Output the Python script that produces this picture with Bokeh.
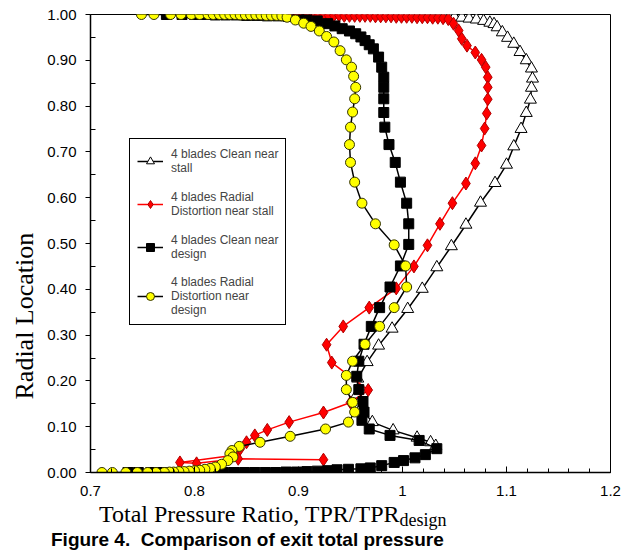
import numpy as np
from bokeh.plotting import figure
from bokeh.layouts import column
from bokeh.models import Legend, LegendItem, FixedTicker, Title, Div
from bokeh.embed import file_html
from bokeh.resources import INLINE

# ---------------- data ----------------
series_names = [
    "4 blades Clean near\nstall",
    "4 blades Radial\nDistortion near stall",
    "4 blades Clean near\ndesign",
    "4 blades Radial\nDistortion near\ndesign",
]

# 4 blades Clean near stall (open triangles)
stall_clean_x = [0.880, 0.885, 0.890, 0.895, 0.900, 0.905, 0.910, 0.915, 0.920, 0.925, 0.930, 0.935,
                 0.940, 0.945, 0.950, 0.955, 0.960, 0.965, 0.970, 0.975, 0.980, 0.985, 0.990, 0.995,
                 1.000, 1.005, 1.010, 1.015, 1.020, 1.025, 1.030, 1.035, 1.040, 1.045, 1.050, 1.057,
                 1.064, 1.071, 1.078, 1.084, 1.088, 1.091, 1.096, 1.101, 1.107, 1.113, 1.119, 1.124,
                 1.125, 1.124, 1.123, 1.119, 1.114, 1.107, 1.100, 1.089, 1.075, 1.061, 1.047, 1.033,
                 1.019, 1.005, 0.990, 0.977, 0.966, 0.957, 0.956, 0.960, 0.971, 0.991, 1.014, 1.027,
                 1.032]
stall_clean_y = [1.000, 1.000, 1.000, 1.000, 1.000, 1.000, 1.000, 1.000, 1.000, 1.000, 1.000, 1.000,
                 1.000, 1.000, 1.000, 1.000, 0.999, 0.999, 0.999, 0.999, 0.999, 0.999, 0.998, 0.998,
                 0.998, 0.998, 0.997, 0.997, 0.997, 0.996, 0.996, 0.996, 0.995, 0.995, 0.994, 0.993,
                 0.991, 0.989, 0.986, 0.982, 0.979, 0.972, 0.961, 0.949, 0.936, 0.918, 0.900, 0.882,
                 0.860, 0.840, 0.814, 0.785, 0.750, 0.712, 0.672, 0.632, 0.589, 0.541, 0.494, 0.448,
                 0.401, 0.357, 0.314, 0.277, 0.241, 0.205, 0.170, 0.140, 0.110, 0.092, 0.076, 0.066,
                 0.058]

# 4 blades Radial Distortion near stall (red diamonds)
stall_dist_x = [0.894, 0.899, 0.904, 0.909, 0.914, 0.919, 0.924, 0.929, 0.934, 0.939, 0.944, 0.949,
                0.954, 0.959, 0.964, 0.969, 0.974, 0.979, 0.984, 0.989, 0.994, 0.999, 1.004, 1.009,
                1.014, 1.019, 1.024, 1.029, 1.034, 1.039, 1.044, 1.049, 1.054, 1.057, 1.062, 1.070,
                1.076, 1.080, 1.082, 1.082, 1.082, 1.081, 1.079, 1.076, 1.070, 1.061, 1.048, 1.036,
                1.024, 1.011, 0.994, 0.968, 0.943, 0.927, 0.932, 0.967, 0.950, 0.924, 0.891, 0.870,
                0.858, 0.850, 0.844, 0.840, 0.786, 0.802, 0.842, 0.924]
stall_dist_y = [0.998, 0.998, 0.998, 0.998, 0.998, 0.998, 0.998, 0.998, 0.998, 0.998, 0.997, 0.997,
                0.997, 0.997, 0.997, 0.997, 0.996, 0.996, 0.996, 0.996, 0.995, 0.995, 0.995, 0.995,
                0.994, 0.994, 0.994, 0.993, 0.993, 0.992, 0.990, 0.980, 0.965, 0.947, 0.932, 0.917,
                0.901, 0.885, 0.863, 0.841, 0.815, 0.784, 0.751, 0.714, 0.675, 0.631, 0.588, 0.543,
                0.496, 0.450, 0.402, 0.360, 0.319, 0.279, 0.240, 0.180, 0.153, 0.131, 0.110, 0.093,
                0.081, 0.066, 0.052, 0.038, 0.022, 0.020, 0.030, 0.028]

# 4 blades Clean near design (black squares)
design_clean_x = [0.773, 0.788, 0.800, 0.810, 0.820, 0.830, 0.840, 0.850, 0.860, 0.870, 0.880, 0.890,
                  0.900, 0.908, 0.918, 0.928, 0.935, 0.942, 0.949, 0.955, 0.960, 0.964, 0.968, 0.972,
                  0.977, 0.980, 0.982, 0.982, 0.982, 0.982, 0.983, 0.987, 0.993, 0.998, 1.004, 1.006,
                  1.006, 0.998, 0.988, 0.978, 0.970, 0.963, 0.958, 0.956, 0.958, 0.962, 0.963, 0.961,
                  0.968, 0.988, 1.016, 1.033, 1.022, 1.012, 1.001, 0.992, 0.980, 0.969, 0.960, 0.948,
                  0.937, 0.928, 0.918, 0.908, 0.898, 0.888, 0.878, 0.868, 0.858, 0.848, 0.838, 0.828,
                  0.818, 0.808, 0.798, 0.788, 0.778, 0.768, 0.758, 0.746, 0.736]
design_clean_y = [1.000, 1.000, 1.000, 1.000, 0.999, 0.999, 0.999, 0.998, 0.998, 0.997, 0.997, 0.996,
                  0.995, 0.991, 0.986, 0.980, 0.975, 0.969, 0.964, 0.958, 0.951, 0.943, 0.934, 0.925,
                  0.907, 0.885, 0.863, 0.841, 0.816, 0.786, 0.754, 0.716, 0.677, 0.634, 0.588, 0.543,
                  0.498, 0.451, 0.405, 0.360, 0.319, 0.280, 0.243, 0.210, 0.181, 0.155, 0.132, 0.114,
                  0.095, 0.081, 0.070, 0.052, 0.039, 0.032, 0.026, 0.022, 0.015, 0.010, 0.008, 0.007,
                  0.006, 0.004, 0.003, 0.002, 0.001, 0.001, 0.000, 0.000, 0.000, 0.000, 0.000, 0.000,
                  0.000, 0.000, 0.000, 0.000, 0.000, 0.000, 0.000, 0.000, 0.000]

# 4 blades Radial Distortion near design (yellow circles)
design_dist_x = [0.749, 0.761, 0.777, 0.787, 0.797, 0.805, 0.813, 0.818, 0.824, 0.829, 0.834, 0.839,
                 0.844, 0.849, 0.854, 0.859, 0.864, 0.869, 0.874, 0.879, 0.884, 0.889, 0.897, 0.905,
                 0.912, 0.920, 0.927, 0.934, 0.940, 0.946, 0.951, 0.953, 0.955, 0.954, 0.952, 0.950,
                 0.949, 0.950, 0.954, 0.961, 0.974, 0.992, 1.003, 1.004, 0.992, 0.978, 0.964, 0.952,
                 0.946, 0.946, 0.952, 0.954, 0.948, 0.926, 0.892, 0.863, 0.843, 0.836, 0.834, 0.837,
                 0.832, 0.826, 0.820, 0.815, 0.810, 0.805, 0.800, 0.795, 0.790, 0.785, 0.780, 0.776,
                 0.771, 0.763, 0.755, 0.745, 0.734, 0.721, 0.711]
design_dist_y = [1.000, 1.000, 1.000, 1.000, 1.000, 1.000, 1.000, 1.000, 1.000, 1.000, 1.000, 1.000,
                 0.999, 0.999, 0.999, 0.999, 0.999, 0.998, 0.998, 0.998, 0.997, 0.994, 0.988, 0.981,
                 0.974, 0.964, 0.952, 0.940, 0.921, 0.901, 0.885, 0.865, 0.841, 0.816, 0.787, 0.754,
                 0.716, 0.677, 0.634, 0.588, 0.543, 0.497, 0.451, 0.405, 0.360, 0.319, 0.280, 0.243,
                 0.212, 0.181, 0.153, 0.132, 0.110, 0.095, 0.079, 0.066, 0.057, 0.048, 0.041, 0.034,
                 0.026, 0.018, 0.012, 0.009, 0.007, 0.005, 0.004, 0.003, 0.002, 0.002, 0.001, 0.001,
                 0.000, 0.000, 0.000, 0.000, 0.000, 0.000, 0.000]

x_ticks = [0.7, 0.8, 0.9, 1.0, 1.1, 1.2]
x_tick_labels = ["0.7", "0.8", "0.9", "1", "1.1", "1.2"]
y_ticks = [0.0, 0.1, 0.2, 0.3, 0.4, 0.5, 0.6, 0.7, 0.8, 0.9, 1.0]
y_tick_labels = ["0.00", "0.10", "0.20", "0.30", "0.40", "0.50", "0.60", "0.70", "0.80", "0.90", "1.00"]

x_title = "Total Pressure Ratio, TPR/TPR"
x_title_sub = "design"
y_title = "Radial Location"
caption = "Figure 4.&nbsp; Comparison of exit total pressure"

W = 625
H_MAIN = 502
H_BOTTOM = 48

# ---------------- main figure ----------------
p = figure(width=W, height=H_MAIN, x_range=(0.7, 1.2), y_range=(0.0, 1.0),
           output_backend="svg", toolbar_location=None,
           min_border_left=90, min_border_right=15, min_border_top=14, min_border_bottom=30)
p.xgrid.visible = False
p.ygrid.visible = False
p.outline_line_color = "black"
p.outline_line_width = 1
p.outline_line_alpha = 1
p.background_fill_color = "white"
p.border_fill_color = "white"

x_minor = list(np.round(np.arange(0.70, 1.2001, 0.02), 3))
y_minor = list(np.round(np.arange(0.05, 1.0, 0.1), 3))
p.xaxis.ticker = FixedTicker(ticks=x_ticks, minor_ticks=x_minor)
p.yaxis.ticker = FixedTicker(ticks=y_ticks, minor_ticks=y_minor)
p.xaxis.major_label_overrides = dict(zip(x_ticks, x_tick_labels))
p.yaxis.major_label_overrides = dict(zip(y_ticks, y_tick_labels))

for ax in (p.xaxis, p.yaxis):
    ax.axis_line_color = "black"
    ax.axis_line_width = 1.5
    ax.major_tick_line_color = "black"
    ax.minor_tick_line_color = "black"
    ax.major_label_text_font = "Liberation Sans"
    ax.major_label_text_font_size = "15px"
    ax.major_label_text_color = "black"

p.xaxis.major_tick_in = 6
p.xaxis.major_tick_out = 0
p.xaxis.minor_tick_in = 4
p.xaxis.minor_tick_out = 0
p.xaxis.major_label_standoff = 13

p.yaxis.major_tick_in = 0
p.yaxis.major_tick_out = 5
p.yaxis.minor_tick_in = 5
p.yaxis.minor_tick_out = 0
p.yaxis.major_label_standoff = 9

styles = [
    (stall_clean_x, stall_clean_y, "triangle", 12, "white", "black", "black"),
    (stall_dist_x, stall_dist_y, "diamond", 13, "#ff0000", "#b00000", "#ff0000"),
    (design_clean_x, design_clean_y, "square", 10, "black", "black", "black"),
    (design_dist_x, design_dist_y, "circle", 10, "#ffff00", "#333300", "black"),
]

items = []
for name, (xs, ys, marker, size, fill, edge, lc) in zip(series_names, styles):
    rl = p.line(xs, ys, line_color=lc, line_width=1.5)
    rm = p.scatter(xs, ys, marker=marker, size=size, fill_color=fill, line_color=edge, line_width=1)
    items.append(LegendItem(label=name, renderers=[rl, rm]))

legend = Legend(items=items, location=(39, 147))
legend.label_text_font = "Liberation Sans"
legend.label_text_font_size = "12px"
legend.label_height = 30
legend.glyph_width = 26
legend.label_standoff = 8
legend.padding = 7
legend.spacing = 13
legend.margin = 0
legend.border_line_color = "black"
legend.border_line_width = 1
legend.border_line_alpha = 1
legend.background_fill_color = "white"
legend.background_fill_alpha = 1
p.add_layout(legend)

# y-axis title as a side-panel title, starting above the frame bottom like the reference
ytitle = Title(text=y_title, align="left", offset=73, standoff=12,
               text_font="Liberation Serif", text_font_size="26px",
               text_font_style="normal", text_color="black")
p.add_layout(ytitle, "left")

# ---------------- bottom strip: x-axis title (with subscript) and figure caption ----------------
strip_html = (
    f'<div style="position:relative;width:{W}px;height:{H_BOTTOM}px;overflow:visible;">'
    f'<span style="position:absolute;left:99px;top:0px;font-family:\'Liberation Serif\';'
    f'font-size:24px;line-height:1;white-space:nowrap;color:black;">{x_title}'
    f'<span style="font-size:18px;vertical-align:-4px;line-height:1;">{x_title_sub}</span></span>'
    f'<span style="position:absolute;left:51px;top:28px;font-family:\'Liberation Sans\';'
    f'font-weight:bold;font-size:19px;line-height:1;white-space:nowrap;color:black;">{caption}</span>'
    f'</div>'
)
strip = Div(text=strip_html, width=W, height=H_BOTTOM, margin=0)

layout = column(p, strip, spacing=0)
open("out.html", "w").write(file_html(layout, INLINE))
